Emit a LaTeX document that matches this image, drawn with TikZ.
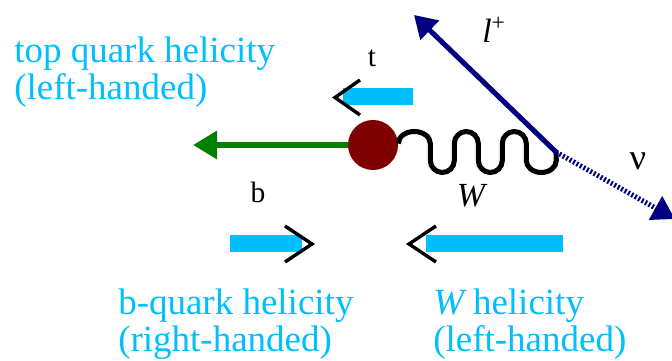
\documentclass[tikz,border=0pt]{standalone}
\usepackage{fontspec}
\setmainfont{Liberation Serif}
\usetikzlibrary{arrows.meta}

\begin{document}
\begin{tikzpicture}[x=0.025cm,y=0.025cm,
  helbar/.style={line width=0.425cm, helCol},
  chevron/.style={black, line width=2.4pt, line join=miter},
  partname/.style={font=\fontsize{21}{24}\selectfont, inner sep=0pt, anchor=base},
  heltext/.style={font=\fontsize{26.3}{27}\selectfont, text=helCol, align=left, inner sep=0pt, anchor=base west}
]

% Colori
\definecolor{helCol}{HTML}{00BFFF}
\definecolor{bCol}{HTML}{008000}
\definecolor{topCol}{HTML}{800000}
\definecolor{lepCol}{HTML}{000080}

% Cornice
\clip (0,0) rectangle (672,361);

% Vertici e punte
\coordinate (btip) at (193,216);
\coordinate (vtx) at (556,209);
\coordinate (ltip) at (414,346);
\coordinate (nutip) at (675,142);

% Quark top
\node[circle, fill=topCol, minimum size=1.25cm, inner sep=0pt] (tquark) at (373,216) {};

% Quark b
\draw[bCol, line width=4.3pt, -{Triangle[length=0.6cm,width=0.675cm]}] (tquark) -- (btip);

% Bosone W
\draw[black, line width=3.6pt, line join=round]
  (tquark.east) ++(0,1.5)
  arc[start angle=180,end angle=0,x radius=16,y radius=12] -- ++(0,-17)
  arc[start angle=180,end angle=360,radius=12] -- ++(0,17)
  arc[start angle=180,end angle=0,radius=12] -- ++(0,-17)
  arc[start angle=180,end angle=360,radius=12] -- ++(0,17)
  arc[start angle=180,end angle=0,radius=12] -- ++(0,-17)
  arc[start angle=180,end angle=360,x radius=15,y radius=12] -- (vtx);

% Leptone e neutrino
\draw[lepCol, line width=3.6pt, -{Triangle[length=0.55cm,width=0.65cm]}] (vtx) -- (ltip);
\draw[lepCol, line width=3.6pt, dash pattern=on 1.4pt off 1.4pt, -{Triangle[length=0.56cm,width=0.65cm]}] (vtx) -- (nutip);

% Frecce di elicita
\draw[helbar] (413,264.5) -- (343,264.5);
\draw[chevron] (360,281) -- (335,263.5) -- (360,246);

\draw[helbar] (230,117) -- (302,117);
\draw[chevron] (285,135) -- (312,117) -- (285,99);

\draw[helbar] (563,117) -- (426,117);
\draw[chevron] (436,135) -- (409,117) -- (436,99);

% Etichette
\node[partname] (tlabel) at (372,294) {t};
\node[partname] (blabel) at (258,158) {b};
\node[partname, font=\fontsize{24}{26}\selectfont\itshape] (wlabel) at (471,154) {W};
\node[partname, font=\fontsize{26}{28}\selectfont] (nulabel) at (638,191) {ν};
\node[partname, anchor=base west, font=\fontsize{24}{26}\selectfont] (lplabel) at (482,318) {\textit{l}\textsuperscript{+}};

% Testi
\node[heltext] (tophel) at (14,261) {top quark helicity\\(left-handed)};
\node[heltext] (bhel) at (118,9) {b-quark helicity\\(right-handed)};
\node[heltext] (whel) at (433,9) {\textit{W}\,helicity\\(left-handed)};

\end{tikzpicture}
\end{document}
